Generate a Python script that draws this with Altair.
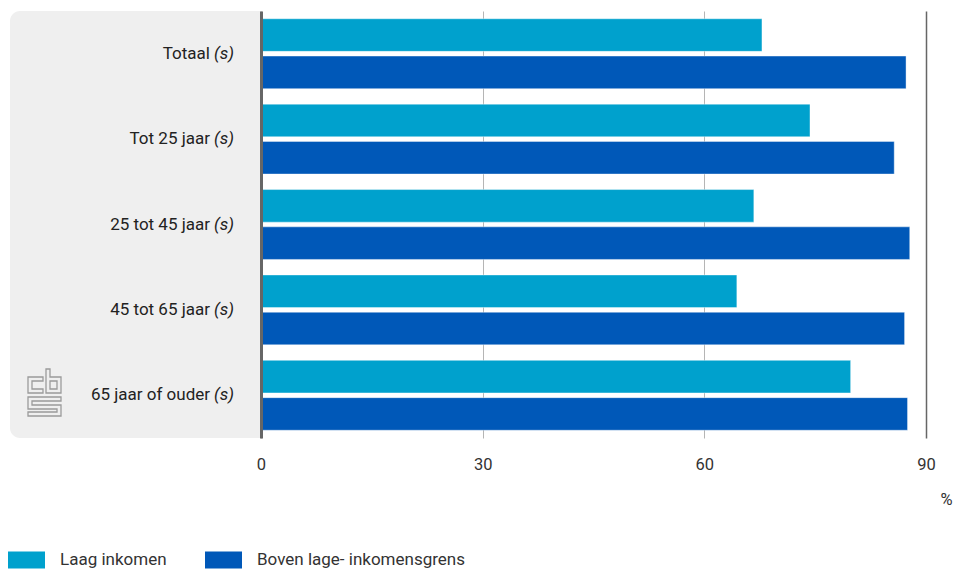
import altair as alt
import pandas as pd

categories = ["Totaal", "Tot 25 jaar", "25 tot 45 jaar", "45 tot 65 jaar", "65 jaar of ouder"]
series = ["Laag inkomen", "Boven lage- inkomensgrens"]
laag = [67.8, 74.3, 66.7, 64.4, 79.8]
boven = [87.3, 85.7, 87.8, 87.1, 87.5]
x_ticks = [0, 30, 60, 90]
colors = ["#00a1cd", "#0058b8"]

rows = []
for c, a, b in zip(categories, laag, boven):
    rows.append({"cat": c, "serie": series[0], "value": a})
    rows.append({"cat": c, "serie": series[1], "value": b})
df = pd.DataFrame(rows)
cat_df = pd.DataFrame({"cat": categories})

W, H = 665, 427
FONT = "Roboto"

yenc = alt.Y("cat:N", sort=categories,
             scale=alt.Scale(paddingInner=0, paddingOuter=0),
             axis=alt.Axis(labels=False, ticks=False, title=None, domain=True,
                           domainColor="#666666", domainWidth=3, zindex=1, grid=False))

panel = alt.Chart(alt.Data(values=[{"k": 1}])).mark_rect(
    color="#efefef", cornerRadiusTopLeft=10, cornerRadiusBottomLeft=10
).encode(x=alt.value(-251), x2=alt.value(0), y=alt.value(0), y2=alt.value(H))

bars = alt.Chart(df).mark_bar(stroke="white", strokeWidth=0.8, strokeOpacity=0.5).encode(
    x=alt.X("value:Q", scale=alt.Scale(domain=[0, 90], nice=False, zero=True),
            axis=alt.Axis(values=x_ticks, domain=False, ticks=False, labelPadding=18,
                          labelFlush=False,
                          labelFontSize=16.5, labelColor="#333333", labelFont=FONT,
                          grid=True, gridColor={"condition": {"test": "datum.value === 90", "value": "#666666"}, "value": "#b5b5b5"},
                          gridWidth={"condition": {"test": "datum.value === 90", "value": 1.5}, "value": 1},
                          title="%", titleX=691, titleY=61, titleAlign="right", titleBaseline="middle",
                          titleFontSize=16.5, titleFontWeight="normal", titleColor="#333333", titleFont=FONT)),
    y=yenc,
    yOffset=alt.YOffset("serie:N", sort=series, scale=alt.Scale(paddingInner=0.126, paddingOuter=0.208)),
    color=alt.Color("serie:N", sort=series, scale=alt.Scale(domain=series, range=colors),
                    legend=alt.Legend(orient="none", legendX=-253, legendY=530, direction="horizontal",
                                      title=None, symbolType="M-1,-0.46H1V0.46H-1Z", symbolSize=1369,
                                      symbolStrokeWidth=0, symbolOpacity=1, labelFontSize=17,
                                      labelFont=FONT, labelColor="#333333", labelOffset=15,
                                      labelLimit=0, columnPadding=38, padding=0)),
)

names = alt.Chart(cat_df).mark_text(align="right", baseline="middle", fontSize=17, font=FONT, color="#222222").encode(
    y=alt.Y("cat:N", sort=categories), x=alt.value(-51), text="cat:N")
ss = alt.Chart(cat_df).mark_text(align="right", baseline="middle", fontSize=17, font=FONT, fontStyle="italic", color="#222222").encode(
    y=alt.Y("cat:N", sort=categories), x=alt.value(-27), text=alt.value("(s)"))

# CBS logo outline, pixel coordinates around its own centre
cx, cy = 44.5, 392.5
def poly(start, moves):
    x, y = start
    s = f"M{x-cx:.1f},{y-cy:.1f}"
    for m in moves:
        if m[0] == "H":
            x = m[1]
        else:
            y = m[1]
        s += f"L{x-cx:.1f},{y-cy:.1f}"
    return s + "Z"
logo_path = (poly((43, 377), [("H", 28), ("V", 393), ("H", 43), ("V", 389), ("H", 32), ("V", 381), ("H", 43)])
             + poly((46, 369), [("H", 50), ("V", 377), ("H", 61), ("V", 393), ("H", 46)])
             + poly((50, 381), [("H", 57), ("V", 389), ("H", 50)])
             + poly((28, 397), [("H", 61), ("V", 401), ("H", 32), ("V", 405), ("H", 61), ("V", 416),
                                 ("H", 28), ("V", 412), ("H", 57), ("V", 409), ("H", 28)]))
logo = alt.Chart(alt.Data(values=[{"k": 1}])).mark_point(
    shape=logo_path, size=4, filled=False, stroke="#9b9b9b", strokeWidth=1.3, opacity=1
).encode(x=alt.value(cx - 261), y=alt.value(cy - 11))

chart = alt.layer(panel, bars, names, ss, logo).properties(
    width=W, height=H,
    autosize=alt.AutoSizeParams(type="none"),
    padding={"left": 253, "top": 3, "right": 27, "bottom": 135},
).configure_view(stroke=None).configure_axis(labelFont=FONT)

chart.save("out.html", embed_options={"renderer": "svg", "actions": False})
